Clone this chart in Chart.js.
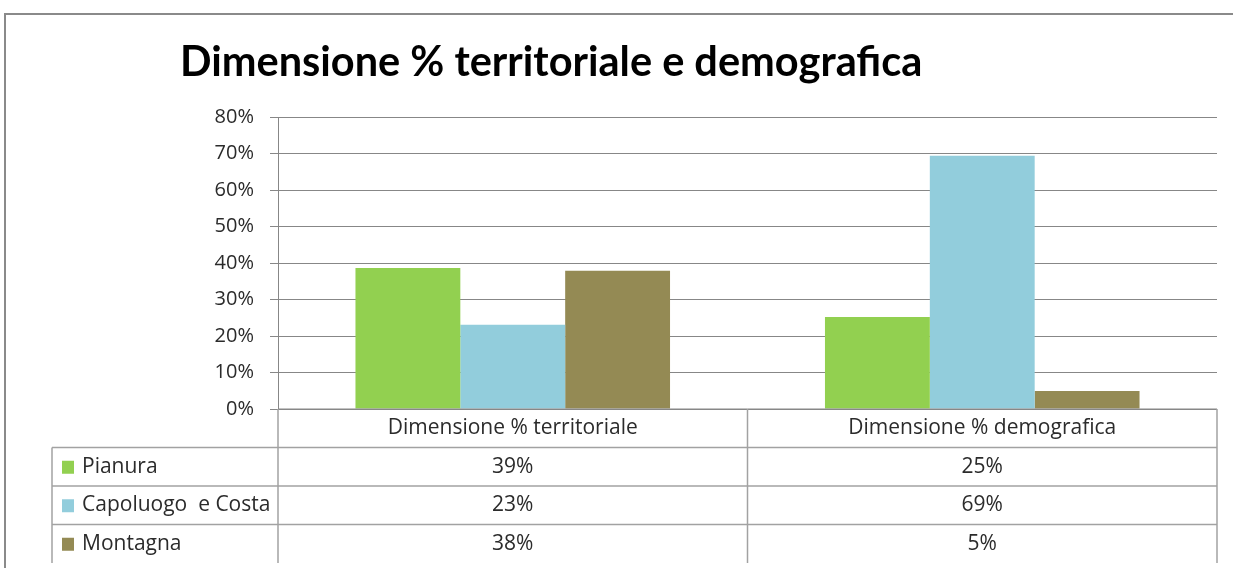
<!DOCTYPE html>
<html lang="it">
<head>
<meta charset="utf-8">
<title>Dimensione % territoriale e demografica</title>
<script src="https://cdn.jsdelivr.net/npm/chart.js@4.4.1/dist/chart.umd.min.js"></script>
<style>
  html, body { margin: 0; padding: 0; background: #fff; }
  #wrap { position: relative; width: 1233px; height: 568px; }
</style>
</head>
<body>
<div id="wrap"><canvas id="chart"></canvas></div>
<script>
// --- data ---
const titleText = 'Dimensione % territoriale e demografica';
const categories = ['Dimensione % territoriale', 'Dimensione % demografica'];
const seriesNames = ['Pianura', 'Capoluogo  e Costa', 'Montagna'];
const pianura = [0.386, 0.252];
const capoluogo = [0.231, 0.694];
const montagna = [0.379, 0.049];
const yMax = 0.8;
const yStep = 0.1;

const seriesValues = [pianura, capoluogo, montagna];
const seriesColors = ['#92D050', '#92CDDC', '#948A54']; // excel green / aqua / olive

const titleFont = "Lato, 'Open Sans', 'DejaVu Sans', sans-serif";
const bodyFont = "'Open Sans', Lato, 'DejaVu Sans', sans-serif";
const textColor = '#2b2b2b';
const gridColor = '#878787';
const tableLine = '#a2a2a2';

const pct = v => Math.round(v * 100) + '%';

// frame, title and the data table under the plot
const dataTablePlugin = {
    id: 'dataTable',
    beforeDraw(chart) {
        const ctx = chart.ctx;
        ctx.save();
        // outer frame (top + left only visible in the reference)
        ctx.strokeStyle = '#8a8a8a';
        ctx.lineWidth = 2;
        ctx.beginPath();
        ctx.moveTo(5, chart.height);
        ctx.lineTo(5, 14);
        ctx.lineTo(chart.width, 14);
        ctx.stroke();

        // title, sized to the width it has in the reference
        let size = 40;
        ctx.font = `bold ${size}px ${titleFont}`;
        size = size * 742 / ctx.measureText(titleText).width;
        ctx.font = `bold ${size.toFixed(1)}px ${titleFont}`;
        ctx.fillStyle = '#000';
        ctx.textAlign = 'left';
        ctx.textBaseline = 'alphabetic';
        ctx.fillText(titleText, 180, 76);
        ctx.restore();
    },
    afterDraw(chart) {
        const ctx = chart.ctx;
        const area = chart.chartArea;
        const xScale = chart.scales.x;
        const rows = seriesNames.length + 1;
        const rowH = (chart.height - 5 - area.bottom) / rows;
        const colW = area.width / categories.length;
        const tableLeft = 52;
        const bottom = area.bottom + rowH * rows;

        ctx.save();
        // x axis line
        ctx.strokeStyle = gridColor;
        ctx.lineWidth = 1;
        ctx.beginPath();
        ctx.moveTo(area.left, area.bottom);
        ctx.lineTo(area.right, area.bottom);
        ctx.stroke();

        // table grid
        ctx.strokeStyle = tableLine;
        ctx.lineWidth = 1.5;
        ctx.beginPath();
        for (let r = 1; r <= rows - 1; r++) {
            const y = area.bottom + rowH * r;
            ctx.moveTo(tableLeft, y);
            ctx.lineTo(area.right, y);
        }
        ctx.moveTo(tableLeft, area.bottom + rowH);
        ctx.lineTo(tableLeft, bottom);
        for (let c = 0; c <= categories.length; c++) {
            const x = area.left + colW * c;
            ctx.moveTo(x, area.bottom);
            ctx.lineTo(x, bottom);
        }
        ctx.stroke();

        // header row: category names
        ctx.fillStyle = textColor;
        ctx.font = `21px ${bodyFont}`;
        ctx.textAlign = 'center';
        ctx.textBaseline = 'middle';
        categories.forEach((cat, i) => {
            ctx.fillText(cat, xScale.getPixelForValue(i), area.bottom + rowH / 2);
        });

        // series rows: legend key, name, values
        seriesNames.forEach((name, s) => {
            const yMid = area.bottom + rowH * (s + 1) + rowH / 2;
            ctx.fillStyle = seriesColors[s];
            ctx.fillRect(tableLeft + 10, yMid - 6, 12, 13);
            ctx.fillStyle = textColor;
            ctx.textAlign = 'left';
            ctx.fillText(name, tableLeft + 30, yMid);
            ctx.textAlign = 'center';
            seriesValues[s].forEach((v, i) => {
                ctx.fillText(pct(v), xScale.getPixelForValue(i), yMid);
            });
        });
        ctx.restore();
    }
};

const ctx = document.getElementById('chart');
new Chart(ctx.getContext('2d'), {
    type: 'bar',
    data: {
        labels: categories,
        datasets: seriesNames.map((name, s) => ({
            label: name,
            data: seriesValues[s],
            backgroundColor: seriesColors[s],
            borderWidth: 0,
            categoryPercentage: 0.67,
            barPercentage: 1.0
        }))
    },
    options: {
        responsive: true,
        maintainAspectRatio: false,
        animation: false,
        layout: { padding: { top: 117, bottom: 159, right: 16, left: 0 } },
        scales: {
            x: { display: false },
            y: {
                min: 0,
                max: yMax,
                afterFit(scale) { scale.width = 278; },
                ticks: {
                    stepSize: yStep,
                    callback: v => pct(v),
                    font: { family: bodyFont, size: 20 },
                    color: textColor,
                    padding: 16
                },
                grid: { color: gridColor, lineWidth: 1, tickLength: 8 },
                border: { color: gridColor, width: 1 }
            }
        },
        plugins: {
            legend: { display: false },
            title: { display: false },
            tooltip: { enabled: false }
        }
    },
    plugins: [dataTablePlugin]
});
</script>
</body>
</html>
